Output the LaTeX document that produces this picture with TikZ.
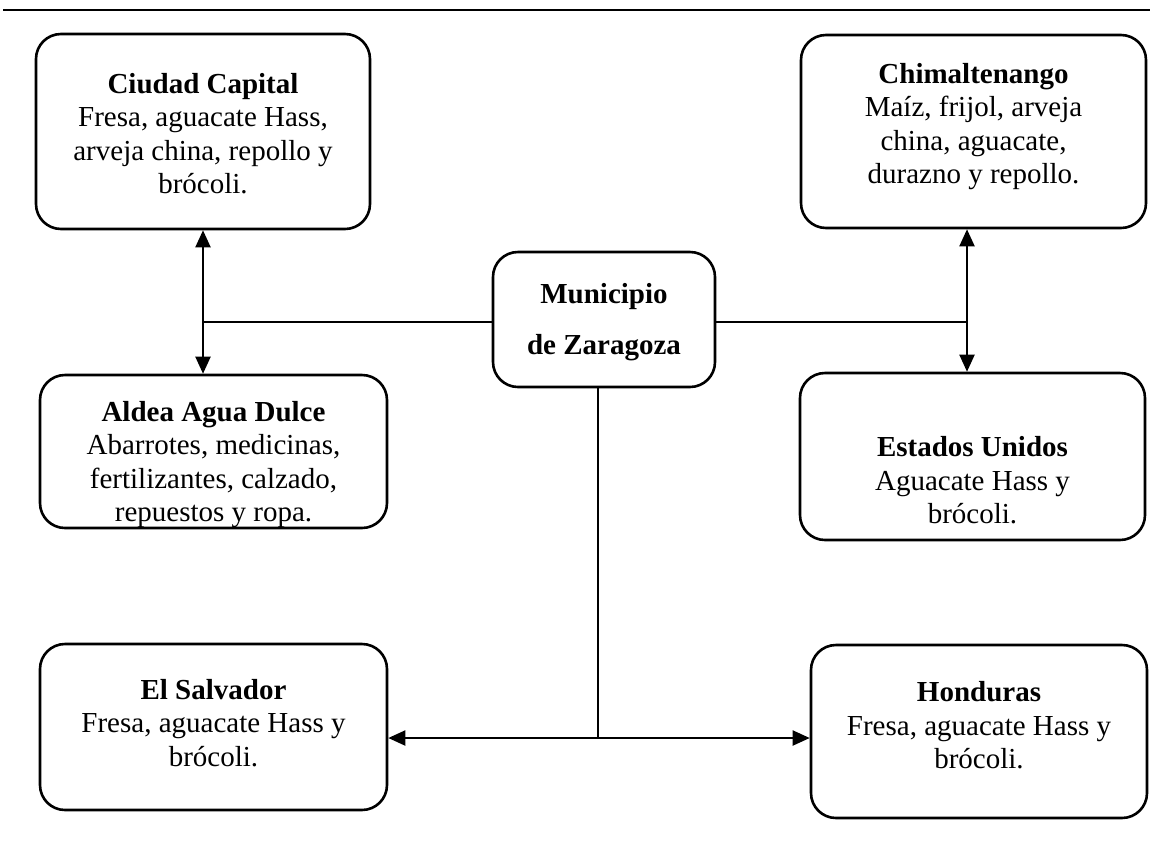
\documentclass[tikz,border=0pt]{standalone}
\usepackage{fontspec}
\setmainfont{Liberation Serif}
\usetikzlibrary{arrows.meta}
\tikzset{
  box/.style={draw, line width=2.6pt, rounded corners=25pt, rectangle, inner sep=0pt},
  txt/.style={align=center, font=\fontsize{29}{33.5}\selectfont, inner sep=0pt},
  conn/.style={line width=2pt},
  tipA/.tip={Triangle[length=17pt,width=15pt]},
  darr/.style={line width=2pt, tipA-tipA}
}
\begin{document}
\begin{tikzpicture}[x=1pt,y=-1pt]
\useasboundingbox (0,0) rectangle (1150,855);
\coordinate (tl) at (3,10);
\coordinate (tr) at (1150,10);
\draw[line width=2pt] (tl) -- (tr);

% boxes
\node[box, minimum width=334pt, minimum height=195pt] (cc) at (203,131.5) {};
\node[box, minimum width=345pt, minimum height=193pt] (ch) at (973.5,131.5) {};
\node[box, minimum width=222pt, minimum height=135pt] (mu) at (604,319.5) {};
\node[box, minimum width=347pt, minimum height=153pt] (al) at (213.5,451.5) {};
\node[box, minimum width=345pt, minimum height=167pt] (eu) at (972.5,456.5) {};
\node[box, minimum width=347pt, minimum height=166pt] (es) at (213.5,727) {};
\node[box, minimum width=336pt, minimum height=173pt] (ho) at (979,731.5) {};

% texts
\node[txt, yshift=-2pt] at (cc.center) {\textbf{Ciudad Capital}\\Fresa, aguacate Hass,\\arveja china, repollo y\\brócoli.};
\node[txt, yshift=5pt] at (ch.center) {\textbf{Chimaltenango}\\Maíz, frijol, arveja\\china, aguacate,\\durazno y repollo.};
\node[txt, yshift=-3pt, font=\fontsize{29}{51}\selectfont\bfseries] at (mu.center) {Municipio\\de Zaragoza};
\node[txt, yshift=-13pt] at (al.center) {\textbf{Aldea Agua Dulce}\\Abarrotes, medicinas,\\fertilizantes, calzado,\\repuestos y ropa.};
\node[txt, yshift=-24pt] at (eu.center) {\textbf{Estados Unidos}\\Aguacate Hass y\\brócoli.};
\node[txt, yshift=4pt] at (es.center) {\textbf{El Salvador}\\Fresa, aguacate Hass y\\brócoli.};
\node[txt, yshift=6pt] at (ho.center) {\textbf{Honduras}\\Fresa, aguacate Hass y\\brócoli.};

% connectors
\coordinate (lj) at (203,322);
\coordinate (rj) at (967,322);
\coordinate (mid) at (598,738);
\draw[darr] (cc.south) -- (cc.south |- al.north);
\draw[conn] (mu.west |- lj) -- (lj);
\draw[darr] (rj |- ch.south) -- (rj |- eu.north);
\draw[conn] (mu.east |- rj) -- (rj);
\draw[conn] (mid |- mu.south) -- (mid);
\draw[darr] (mid -| es.east) -- (mid -| ho.west);
\end{tikzpicture}
\end{document}
